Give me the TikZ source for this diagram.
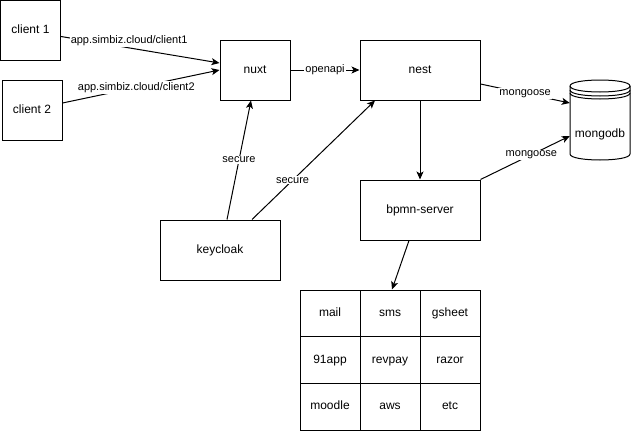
\documentclass[tikz,border=0pt]{standalone}
\usepackage{fontspec}
\setmainfont{Liberation Sans}
\usetikzlibrary{
  arrows.meta,
  positioning,calc
}

\begin{document}
\begin{tikzpicture}[x=1pt,y=-1pt,
  box/.style={draw, line width=1pt, minimum width=120, minimum height=60, inner sep=0pt, text height=8.6pt, text depth=2.6pt, font=\fontsize{12}{14}\selectfont},
  smallbox/.style={box, minimum width=60},
  cell/.style={box, minimum width=60, minimum height=46.67},
  link/.style={-{Stealth[length=8pt,width=7pt,inset=2pt]}, line width=1pt},
  tag/.style={fill=white, inner sep=1pt, font=\fontsize{11}{13}\selectfont}]

  \useasboundingbox (0,0) rectangle (631,431);

  \node[smallbox] (client1) at (30.5,30.5) {client 1};
  \node[smallbox] (client2) at (32,110) {client 2};
  \node[box, minimum width=70] (nuxt) at (255,70) {nuxt};
  \node[box] (nest) at (420,70) {nest};
  \node[box] (bpmn) at (420,210) {bpmn-server};
  \node[box] (keycloak) at (220,250) {keycloak};

  % mongodb datastore
  \node[inner sep=0pt, minimum width=60, minimum height=80] (mongodb) at (600,120) {};
  \draw[line width=1pt] (570,86) -- (570,154) .. controls (570,162) and (630,162) .. (630,154) -- (630,86);
  \draw[line width=1pt] (570,86) .. controls (570,78) and (630,78) .. (630,86) .. controls (630,94) and (570,94) .. (570,86);
  \draw[line width=1pt] (570,90) .. controls (570,98) and (630,98) .. (630,90);
  \draw[line width=1pt] (570,93) .. controls (570,101) and (630,101) .. (630,93);
  \node[font=\fontsize{12}{14}\selectfont] (mongodblabel) at (600,134) {mongodb};

  % services
  \foreach \row[count=\y] in {{mail,sms,gsheet},{91app,revpay,razor},{moodle,aws,etc}}{
    \foreach \v[count=\x] in \row {
      \node[cell] (\v) at (270+60*\x,266.67+46.67*\y) {\v};
  }}

  \draw[link] ([yshift=-6pt]client1.east) -- node[tag, pos=0.43, yshift=7pt] {app.simbiz.cloud/client1} ([yshift=7pt]nuxt.west);
  \draw[link] ([yshift=7pt]client2.east) -- node[tag, pos=0.47] {app.simbiz.cloud/client2} (nuxt.west);
  \draw[link] (nuxt) -- node[tag] {openapi} (nest);
  \draw[link] ([yshift=-14pt]nest.east) -- node[tag] {mongoose} ([yshift=17pt]mongodb.west);
  \draw[link] (bpmn.north east) -- node[tag, pos=0.57] {mongoose} ([yshift=-16pt]mongodb.west);
  \draw[link] (nest) -- (bpmn);
  \draw[link] ([xshift=-11pt]bpmn.south) -- ([xshift=2pt]sms.north);
  \draw[link] ([xshift=7pt]keycloak.north) -- node[tag] {secure} ([xshift=-4pt]nuxt.south);
  \draw[link] ([xshift=32pt]keycloak.north) -- node[tag, pos=0.33] {secure} ([xshift=-45pt]nest.south);

\end{tikzpicture}
\end{document}
